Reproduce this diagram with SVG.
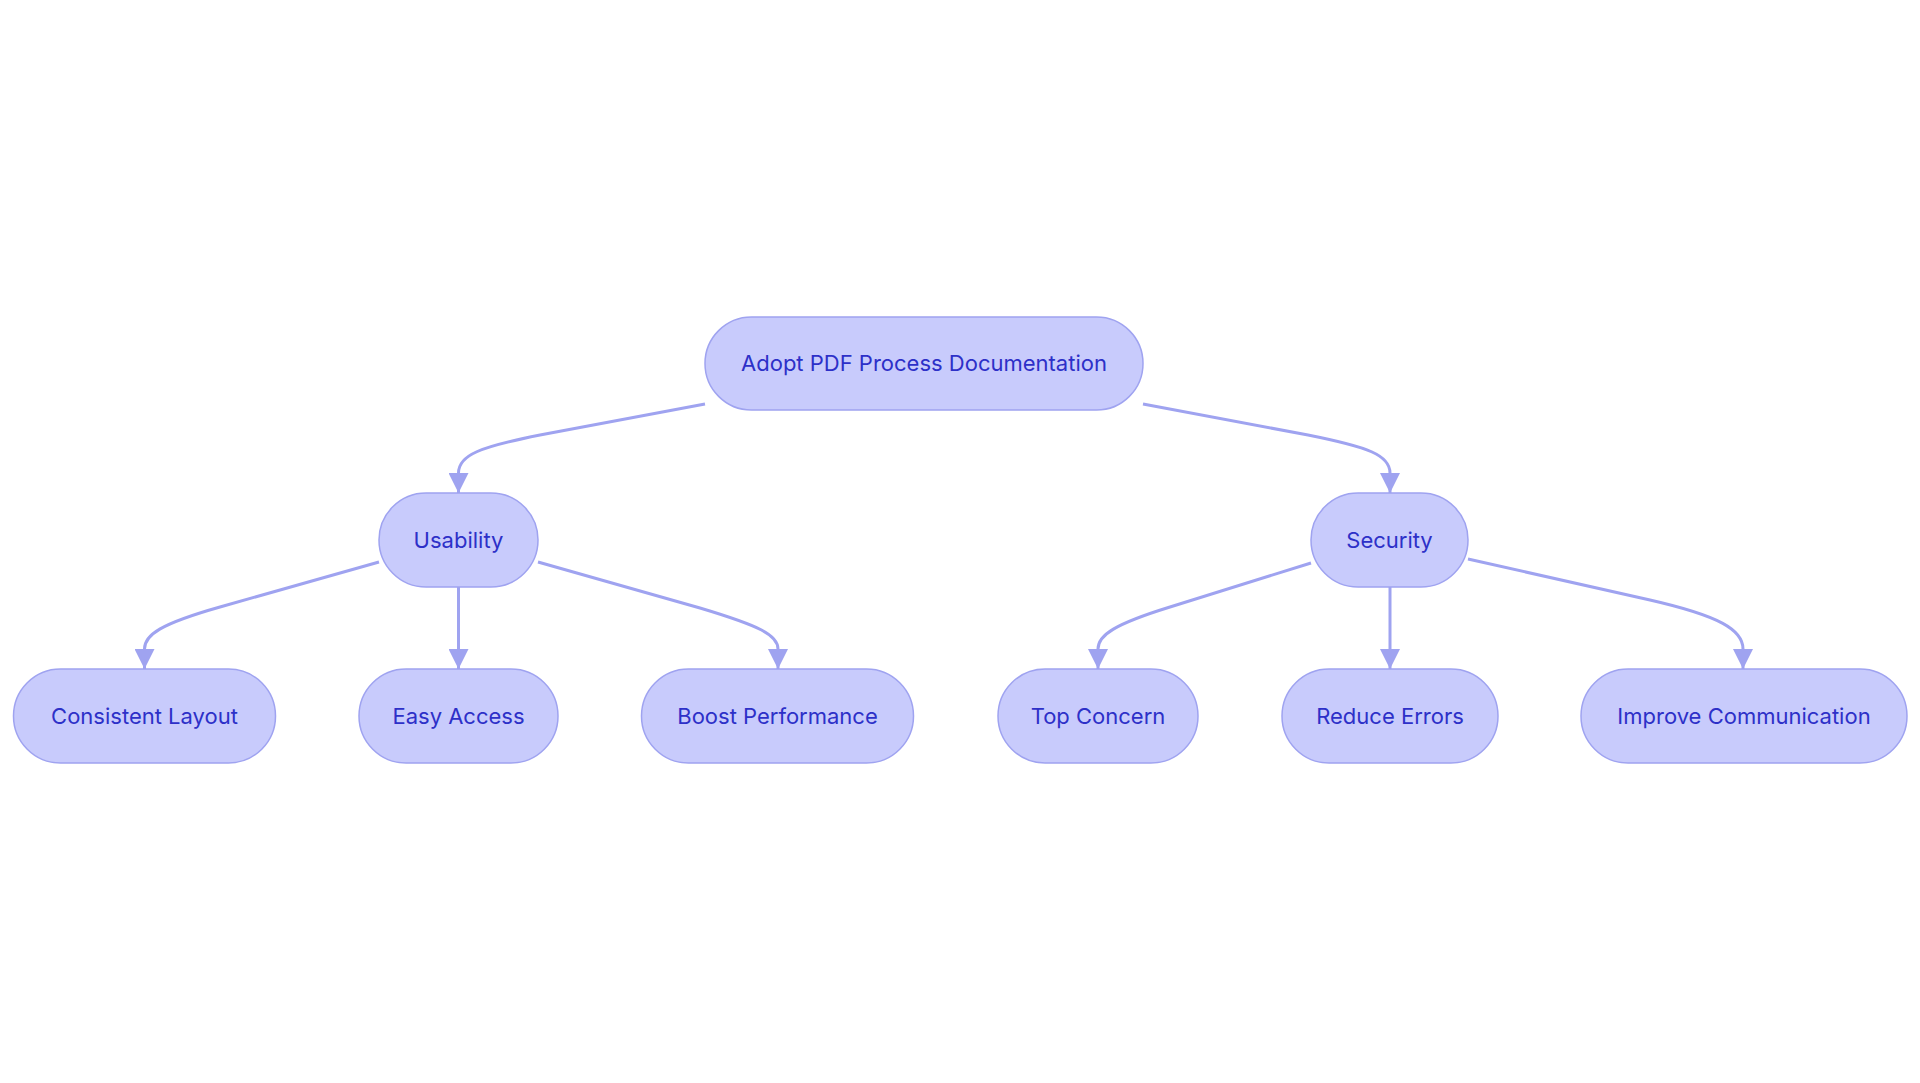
<svg xmlns="http://www.w3.org/2000/svg" width="1920" height="1083" viewBox="0 0 1920 1083">
<defs>
<style>
.node rect{fill:#c8cbfc;stroke:#9fa3f0;stroke-width:1.5}
.node text{font-family:Inter,"Noto Sans",sans-serif;font-size:22px;fill:#2d30c8;text-anchor:middle}
.edge{fill:none;stroke:#9fa3f0;stroke-width:3}
</style>
<marker id="arr" viewBox="0 0 20 20" refX="20" refY="10" markerWidth="20" markerHeight="20" markerUnits="userSpaceOnUse" orient="auto">
<path d="M0,0 L20,10 L0,20 Z" fill="#9fa3f0"/>
</marker>
</defs>
<rect width="1920" height="1083" fill="#ffffff"/>
<g id="connectors">
<path class="edge" d="M705,404 L540,435 C480,447 458.5,455 458.5,473 L458.5,493" marker-end="url(#arr)"/>
<path class="edge" d="M1143,404 L1308,435 C1368,447 1390,455 1390,473 L1390,493" marker-end="url(#arr)"/>
<path class="edge" d="M379,562 L220,607 C160,624 144.5,635 144.5,649 L144.5,669" marker-end="url(#arr)"/>
<path class="edge" d="M458.5,587 L458.5,669" marker-end="url(#arr)"/>
<path class="edge" d="M538,562 L700,608 C760,626 778,635 778,649 L778,669" marker-end="url(#arr)"/>
<path class="edge" d="M1311,563 L1170,607 C1115,624 1098,635 1098,649 L1098,669" marker-end="url(#arr)"/>
<path class="edge" d="M1390,587 L1390,669" marker-end="url(#arr)"/>
<path class="edge" d="M1468,559 L1650,600 C1720,616 1743,630 1743,649 L1743,669" marker-end="url(#arr)"/>
</g>
<g id="node-root" class="node"><rect x="705" y="317" width="438" height="93" rx="46.5"/><text x="924" y="371">Adopt PDF Process Documentation</text></g>
<g id="node-usability" class="node"><rect x="379" y="493" width="159" height="94" rx="47"/><text x="458.5" y="548">Usability</text></g>
<g id="node-security" class="node"><rect x="1311" y="493" width="157" height="94" rx="47"/><text x="1389.5" y="548">Security</text></g>
<g id="node-consistent" class="node"><rect x="13.5" y="669" width="262" height="94" rx="47"/><text x="144.5" y="724">Consistent Layout</text></g>
<g id="node-easy" class="node"><rect x="359" y="669" width="199" height="94" rx="47"/><text x="458.5" y="724">Easy Access</text></g>
<g id="node-boost" class="node"><rect x="641.5" y="669" width="272" height="94" rx="47"/><text x="777.5" y="724">Boost Performance</text></g>
<g id="node-top" class="node"><rect x="998" y="669" width="200" height="94" rx="47"/><text x="1098" y="724">Top Concern</text></g>
<g id="node-reduce" class="node"><rect x="1282" y="669" width="216" height="94" rx="47"/><text x="1390" y="724">Reduce Errors</text></g>
<g id="node-improve" class="node"><rect x="1581" y="669" width="326" height="94" rx="47"/><text x="1744" y="724">Improve Communication</text></g>
</svg>
